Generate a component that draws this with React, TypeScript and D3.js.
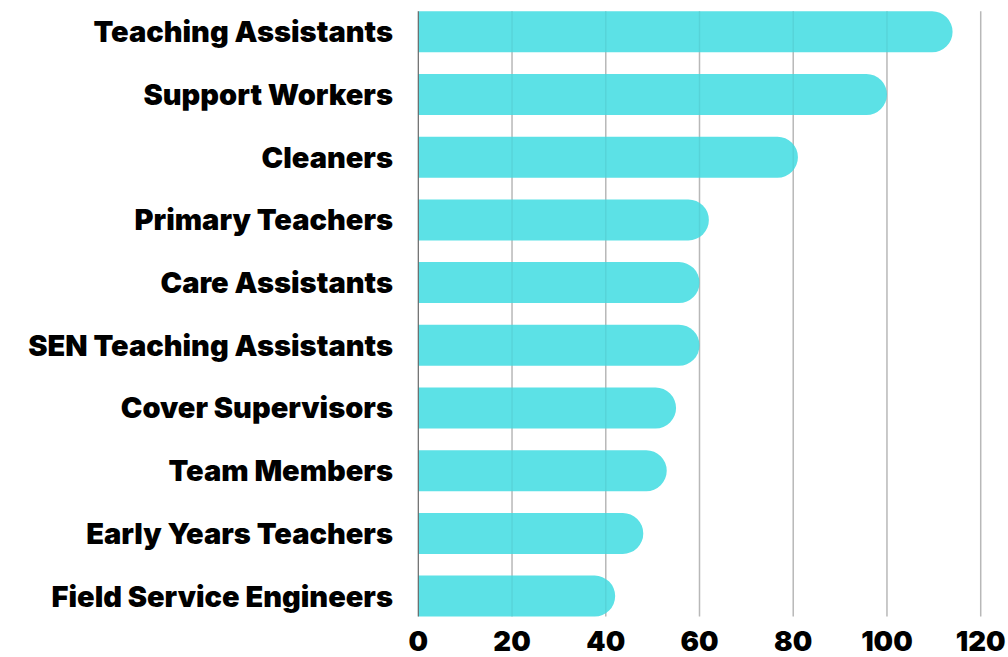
import React from "react";
import * as d3 from "d3";

const categories = [
  "Teaching Assistants",
  "Support Workers",
  "Cleaners",
  "Primary Teachers",
  "Care Assistants",
  "SEN Teaching Assistants",
  "Cover Supervisors",
  "Team Members",
  "Early Years Teachers",
  "Field Service Engineers",
];
const values = [114, 100, 81, 62, 60, 60, 55, 53, 48, 42];
const ticks = [0, 20, 40, 60, 80, 100, 120];

const W = 1008;
const H = 657;
const FONT = "Inter, 'Noto Sans', sans-serif";

export default function App() {
  const x = d3.scaleLinear().domain([0, 120]).range([418.3, 980.7]);
  const y = d3
    .scaleBand<string>()
    .domain(categories)
    .range([11.3, 616.6])
    .paddingInner(0.346)
    .paddingOuter(0);
  const bh = y.bandwidth();
  const r = bh / 2;
  const x0 = x(0);

  const barPath = (v: number, top: number) => {
    const xe = x(v);
    const path = d3.path();
    path.moveTo(x0, top);
    path.lineTo(xe - r, top);
    path.arc(xe - r, top + r, r, -Math.PI / 2, Math.PI / 2);
    path.lineTo(x0, top + bh);
    path.closePath();
    return path.toString();
  };

  const [gTop, gBot] = y.range();

  return (
    <svg
      width={W}
      height={H}
      style={{ position: "absolute", left: 0, top: 0, display: "block" }}
    >
      <rect width={W} height={H} fill="#fff" />
      {ticks.slice(1).map((t) => (
        <line
          key={"g" + t}
          x1={x(t)}
          x2={x(t)}
          y1={gTop}
          y2={gBot}
          stroke="#c4c4c4"
          strokeWidth={1.5}
        />
      ))}
      {categories.map((c, i) => (
        <path key={c} d={barPath(values[i], y(c)!)} fill="#5ce1e6" />
      ))}
      {ticks.slice(1).map((t) => (
        <line
          key={"o" + t}
          x1={x(t)}
          x2={x(t)}
          y1={gTop}
          y2={gBot}
          stroke="rgba(0,0,0,0.06)"
          strokeWidth={1.5}
        />
      ))}
      <line x1={x0} x2={x0} y1={gTop} y2={gBot} stroke="#666" strokeWidth={1.2} />
      {categories.map((c) => (
        <text
          key={"l" + c}
          x={393}
          y={y(c)! + bh / 2 + 10.5}
          textAnchor="end"
          fontFamily={FONT}
          fontWeight={900}
          fontSize={29}
          fill="#000"
        >
          {c}
        </text>
      ))}
      {ticks.map((t) => (
        <text
          key={"t" + t}
          x={x(t)}
          y={651}
          textAnchor="middle"
          fontFamily={FONT}
          fontWeight={900}
          fontSize={27.5}
          fill="#000"
        >
          {t}
        </text>
      ))}
    </svg>
  );
}
